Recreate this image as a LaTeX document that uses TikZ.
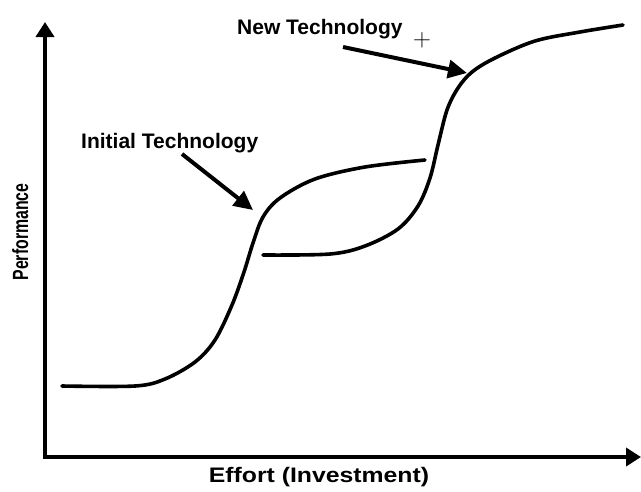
\documentclass[tikz,border=0pt]{standalone}
\usepackage{fontspec}
\setmainfont{Liberation Sans}
\usetikzlibrary{arrows.meta}
\tikzset{
  axisline/.style={line width=4pt, -{Triangle[length=15pt,width=18pt]}},
  curveline/.style={line width=3.6pt, line cap=round, line join=round},
  pointer/.style={line width=4pt, -{Triangle[length=19pt,width=18pt]}},
  lbl/.style={inner sep=0pt, font=\bfseries\fontsize{21}{25}\selectfont},
}
\begin{document}
\begin{tikzpicture}[x=1pt,y=-1pt]
\useasboundingbox (0,0) rectangle (641,491);
% axes
\coordinate (origin) at (45,457);
\coordinate (ytip) at (45,22);
\coordinate (xtip) at (641,457);
\draw[axisline] (45,459) -- (ytip);
\draw[axisline] (43,457) -- (xtip);
% curves
\draw[curveline] plot[smooth, tension=0.55] coordinates {
 (62,386) (135,386) (165,379) (195,362) (215,340) (232,305) (244,272)
 (253,243) (263,217) (280,198) (315,179) (365,167) (425,160)};
\draw[curveline] plot[smooth, tension=0.55] coordinates {
 (263,255) (330,254) (365,246) (398,229) (418,206) (430,178) (438,145)
 (447,110) (458,88) (472,72) (495,58) (535,41) (580,32) (623,25)};
% labels
\node[lbl, anchor=base west] (initial) at (81,148) {Initial Technology};
\node[lbl, anchor=base west] (newtech) at (237,34) {New Technology};
\node[inner sep=0pt] (plus) at (422,40) {\fontsize{24}{28}\selectfont$+$};
\node[inner sep=0pt, font=\bfseries\fontsize{21}{25}\selectfont, anchor=base] (xlabel) at (319,482) {\scalebox{1.18}[1]{Effort (Investment)}};
\node[inner sep=0pt, font=\bfseries\fontsize{22}{26}\selectfont, anchor=base, rotate=90] (ylabel) at (28,232) {\scalebox{0.72}[1]{Performance}};
% pointers
\coordinate (inittip) at (253,210);
\coordinate (newtip) at (467,73);
\draw[pointer] (182,154) -- (inittip);
\draw[pointer] (343,47) -- (newtip);
\end{tikzpicture}
\end{document}
